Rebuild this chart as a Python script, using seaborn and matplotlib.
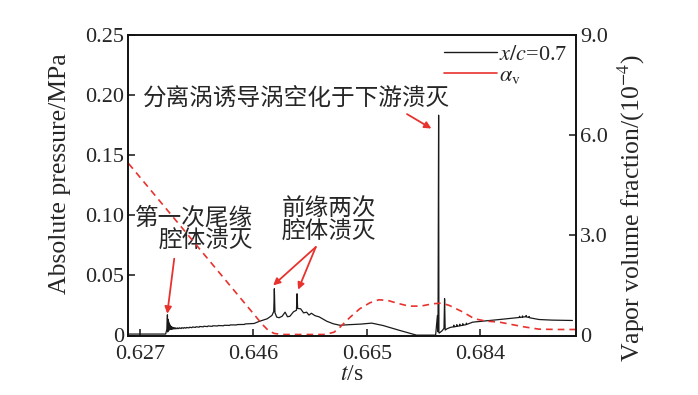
import numpy as np
import pandas as pd
import matplotlib
matplotlib.use("Agg")
import matplotlib.pyplot as plt
import seaborn as sns
from matplotlib.lines import Line2D

# ---------------- data ----------------
t_press = [0.6251, 0.6313, 0.6315, 0.6316, 0.63165, 0.6317, 0.63175, 0.6318, 0.63185, 0.6319,
           0.63195, 0.6320, 0.63205, 0.6321, 0.63215, 0.6322, 0.63225, 0.6323, 0.63235, 0.6324,
           0.6325, 0.6326, 0.6327, 0.6328, 0.6329, 0.6330, 0.6332, 0.6333, 0.6335, 0.6336,
           0.6339, 0.6340, 0.6343, 0.6344, 0.6347, 0.6348, 0.6352, 0.6353, 0.6357, 0.6358,
           0.6363, 0.6364, 0.6369, 0.6370, 0.6376, 0.6377, 0.6383, 0.6384, 0.6391, 0.6392,
           0.6400, 0.6401, 0.6410, 0.6411, 0.6420, 0.6421, 0.6432, 0.6433, 0.6445, 0.6446,
           0.6461, 0.6470, 0.6483, 0.6491, 0.6494, 0.6495, 0.6496, 0.6499, 0.6503, 0.6508,
           0.6513, 0.6517, 0.6521, 0.6527, 0.6532, 0.6533, 0.6534, 0.6539, 0.6544, 0.6549,
           0.6553, 0.6557, 0.6563, 0.6570, 0.6583, 0.6594, 0.6605, 0.6620, 0.6640, 0.6658,
           0.6677, 0.6705, 0.6733, 0.6765, 0.6768, 0.6769, 0.6770, 0.67705, 0.6771, 0.6776,
           0.6779, 0.6780, 0.6781, 0.6784, 0.6790, 0.6795, 0.67955, 0.6796, 0.6800, 0.68005,
           0.6801, 0.6805, 0.68055, 0.6806, 0.6810, 0.68105, 0.6811, 0.6816, 0.68165, 0.6817,
           0.6827, 0.6850, 0.6872, 0.6895, 0.6905, 0.69055, 0.6906, 0.6910, 0.69105, 0.6911,
           0.6916, 0.69165, 0.6917, 0.6921, 0.69215, 0.6922, 0.6938, 0.6960, 0.6994]
pressure = [0.0012, 0.0012, 0.0050, 0.0172, 0.0030, 0.0135, 0.0040, 0.0115, 0.0045, 0.0100,
            0.0048, 0.0090, 0.0050, 0.0082, 0.0051, 0.0076, 0.0052, 0.0072, 0.0053, 0.0069,
            0.0054, 0.0066, 0.0055, 0.0064, 0.0055, 0.0063, 0.0056, 0.0063, 0.0057, 0.0064,
            0.0058, 0.0065, 0.0060, 0.0066, 0.0061, 0.0067, 0.0063, 0.0069, 0.0065, 0.0071,
            0.0067, 0.0073, 0.0069, 0.0075, 0.0072, 0.0077, 0.0074, 0.0079, 0.0076, 0.0081,
            0.0079, 0.0083, 0.0081, 0.0085, 0.0084, 0.0088, 0.0088, 0.0091, 0.0092, 0.0096,
            0.0100, 0.0118, 0.0139, 0.0167, 0.0200, 0.0389, 0.0190, 0.0153, 0.0148, 0.0160,
            0.0194, 0.0156, 0.0160, 0.0197, 0.0210, 0.0347, 0.0225, 0.0222, 0.0188, 0.0194,
            0.0170, 0.0185, 0.0165, 0.0155, 0.0118, 0.0097, 0.0085, 0.0090, 0.0095, 0.0103,
            0.0083, 0.0042, 0.0003, 0.0003, 0.0167, 0.0030, 0.1833, 0.0030, 0.0020, 0.0040,
            0.0060, 0.0306, 0.0045, 0.0056, 0.0068, 0.0072, 0.0086, 0.0072, 0.0076, 0.0090,
            0.0077, 0.0080, 0.0094, 0.0081, 0.0085, 0.0098, 0.0086, 0.0090, 0.0103, 0.0092,
            0.0111, 0.0122, 0.0133, 0.0145, 0.0150, 0.0160, 0.0150, 0.0153, 0.0163, 0.0153,
            0.0156, 0.0166, 0.0155, 0.0150, 0.0158, 0.0148, 0.0133, 0.0128, 0.0125]

t_vapor = [0.6251, 0.6475, 0.6485, 0.6495, 0.6510, 0.6580, 0.6595, 0.6605, 0.6622, 0.6638,
           0.6655, 0.6670, 0.6685, 0.6700, 0.6720, 0.6740, 0.6760, 0.6775, 0.6788, 0.6811,
           0.6830, 0.6850, 0.6872, 0.6895, 0.6916, 0.6938, 0.6970, 0.7000]
vapor = [5.15, 0.33, 0.15, 0.06, 0.03, 0.03, 0.10, 0.25, 0.55, 0.80,
         0.98, 1.07, 1.05, 0.97, 0.88, 0.88, 0.95, 0.97, 0.90, 0.70,
         0.50, 0.43, 0.40, 0.32, 0.25, 0.19, 0.18, 0.18]

x_ticks = [0.627, 0.646, 0.665, 0.684]
x_ticklabels = ["0.627", "0.646", "0.665", "0.684"]
y_ticks = [0, 0.05, 0.10, 0.15, 0.20, 0.25]
y_ticklabels = ["0", "0.05", "0.10", "0.15", "0.20", "0.25"]
y2_ticks = [0, 3.0, 6.0, 9.0]
y2_ticklabels = ["0", "3.0", "6.0", "9.0"]

legend_labels = ["$x/c$=0.7", r"$\alpha_{\mathrm{v}}$"]
note_main = "分离涡诱导涡空化于下游溃灭"
note_first = "第一次尾缘\n腔体溃灭"
note_lead = "前缘两次\n腔体溃灭"

# ---------------- style ----------------
sns.set_theme(style="ticks")
plt.rcParams["font.family"] = ["Liberation Serif", "Noto Sans CJK SC"]
plt.rcParams["mathtext.fontset"] = "stix"
plt.rcParams["axes.linewidth"] = 1.2

BLACK = "#1a1a1a"
RED = "#e8322e"
CJK = ["Noto Sans CJK SC", "DejaVu Sans"]

df_p = pd.DataFrame({"t": t_press, "p": pressure})
df_v = pd.DataFrame({"t": t_vapor, "v": vapor})

fig = plt.figure(figsize=(6.98, 3.95), dpi=100)
ax = fig.add_axes([128 / 698, 1 - 335.5 / 395, (576 - 128) / 698, (335.5 - 35) / 395])
ax2 = ax.twinx()

sns.lineplot(data=df_p, x="t", y="p", ax=ax, color=BLACK, lw=0.9, sort=False, estimator=None)
sns.lineplot(data=df_v, x="t", y="v", ax=ax2, color=RED, lw=1.2, sort=False, estimator=None,
             linestyle=(0, (4, 3)))

ax.set_xlim(0.625, 0.700)
ax.set_ylim(0, 0.25)
ax2.set_ylim(0, 9.0)

ax.set_xticks(x_ticks)
ax.set_xticklabels(x_ticklabels)
ax.set_yticks(y_ticks)
ax.set_yticklabels(y_ticklabels)
ax2.set_yticks(y2_ticks)
ax2.set_yticklabels(y2_ticklabels)

for a in (ax, ax2):
    a.tick_params(direction="in", length=5, width=1.2, labelsize=16, pad=3)
    for s in a.spines.values():
        s.set_linewidth(1.2)
        s.set_color("#111111")
ax.tick_params(axis="x", pad=7)

ax.set_xlabel("$t$/s", fontsize=17, labelpad=0)
ax.set_ylabel("Absolute pressure/MPa", fontsize=18.5)
ax2.set_ylabel("Vapor volume fraction/(10$^{-4}$)", fontsize=18.5)
ax.yaxis.set_label_coords(-0.127, 0.54)
ax2.yaxis.set_label_coords(1.09, 0.425)

handles = [Line2D([], [], color=BLACK, lw=1.0), Line2D([], [], color=RED, lw=1.2)]
ax.legend(handles, legend_labels, loc="upper right", bbox_to_anchor=(0.99, 0.985),
          frameon=False, fontsize=16, handlelength=2.4, handletextpad=0.08,
          labelspacing=0.05, borderpad=0.1, borderaxespad=0.1)

ax.text(0.62756, 0.1975, note_main, family=CJK, fontsize=17, ha="left", va="center")
ax.text(0.64595, 0.0883, note_first, family=CJK, fontsize=17, ha="right", va="center",
        multialignment="right", linespacing=1.0)
ax.text(0.6507, 0.0958, note_lead, family=CJK, fontsize=17, ha="left", va="center",
        multialignment="left", linespacing=1.0)

arrow = dict(arrowstyle="-|>", color=RED, lw=1.3, mutation_scale=10, shrinkA=0, shrinkB=0)
ax.annotate("", xy=(0.63157, 0.0181), xytext=(0.63274, 0.0639), arrowprops=arrow)
ax.annotate("", xy=(0.6493, 0.0417), xytext=(0.65644, 0.0736), arrowprops=arrow)
ax.annotate("", xy=(0.65348, 0.0381), xytext=(0.65644, 0.0736), arrowprops=arrow)
ax.annotate("", xy=(0.67579, 0.1722), xytext=(0.67171, 0.1842), arrowprops=arrow)

fig.savefig("out.png", dpi=100)
